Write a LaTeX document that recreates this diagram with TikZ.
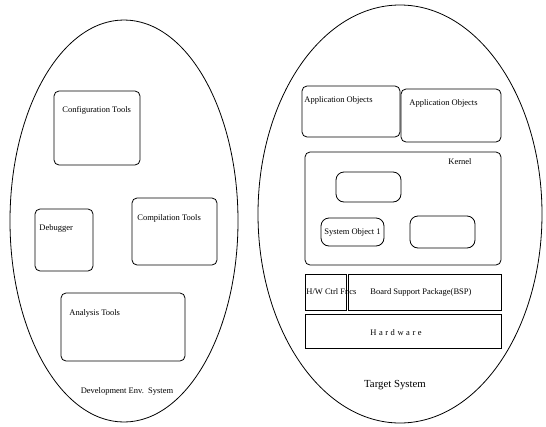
\documentclass[tikz,border=0pt]{standalone}
\usepackage{fontspec}
\setmainfont{Liberation Serif}
\newfontfamily\spacedfont[LetterSpace=30]{Liberation Serif}
\usetikzlibrary{shapes.geometric}
\begin{document}
\begin{tikzpicture}[x=1pt,y=-1pt,
  line width=0.8pt,
  sys/.style={draw, ellipse, inner sep=0pt},
  rbox/.style={draw, rounded corners=5pt, inner sep=0pt},
  sbox/.style={draw, inner sep=0pt},
  lbl/.style={inner sep=0pt, font=\fontsize{8.5}{10}\selectfont},
  title/.style={inner sep=0pt, font=\fontsize{10.8}{13}\selectfont}]
\useasboundingbox (0,0) rectangle (546,426);

% the two system outlines
\node[sys, minimum width=228pt, minimum height=402pt] (dev) at (124,221) {};
\node[sys, minimum width=284pt, minimum height=418pt] (target) at (400,214) {};

% development environment tools
\node[rbox, minimum width=86pt, minimum height=74pt] (config) at (97,128) {};
\node[rbox, minimum width=58pt, minimum height=62pt] (debug) at (64,240) {};
\node[rbox, minimum width=85pt, minimum height=67pt] (compile) at (174.5,231.5) {};
\node[rbox, minimum width=124pt, minimum height=68pt] (analysis) at (123,327) {};

\node[lbl, anchor=west] (configtxt) at (62,110) {Configuration Tools};
\node[lbl, anchor=west] (debugtxt) at (39,228) {Debugger};
\node[lbl, anchor=west] (compiletxt) at (137,218) {Compilation Tools};
\node[lbl, anchor=west] (analysistxt) at (69,313) {Analysis Tools};
\node[lbl] (devtxt) at (127,391) {Development Env.\ \ System};

% target system layers
\node[rbox, minimum width=98pt, minimum height=51pt] (app1) at (351,111.5) {};
\node[rbox, minimum width=100pt, minimum height=53pt] (app2) at (451,115.5) {};
\node[rbox, minimum width=196pt, minimum height=113pt] (kernel) at (403,208.5) {};
\node[rbox, rounded corners=8pt, minimum width=65pt, minimum height=30pt] (kobj1) at (368.5,187) {};
\node[rbox, rounded corners=8pt, minimum width=63pt, minimum height=28pt] (sysobj) at (352.5,232) {};
\node[rbox, rounded corners=8pt, minimum width=65pt, minimum height=32pt] (kobj2) at (442.5,232) {};
\node[sbox, minimum width=41pt, minimum height=36pt] (hwctrl) at (325.5,292) {};
\node[sbox, minimum width=153pt, minimum height=36pt] (bsp) at (424.5,292) {};
\node[sbox, minimum width=196pt, minimum height=34pt] (hw) at (403,331) {};

\node[lbl, anchor=west] (app1txt) at (304,100) {Application Objects};
\node[lbl, anchor=west] (app2txt) at (409,103) {Application Objects};
\node[lbl] (kerneltxt) at (460,162) {Kernel};
\node[lbl] (sysobjtxt) at (352.5,232) {System Object 1};
\node[lbl, anchor=west] (hwctrltxt) at (306,292) {H/W Ctrl Fncs};
\node[lbl] (bsptxt) at (421,292) {Board Support Package(BSP)};
\node[lbl, font=\fontsize{8.5}{10}\spacedfont] (hwtxt) at (396,333) {Hardware};
\node[title] (targettxt) at (395,385) {Target System};
\end{tikzpicture}
\end{document}
